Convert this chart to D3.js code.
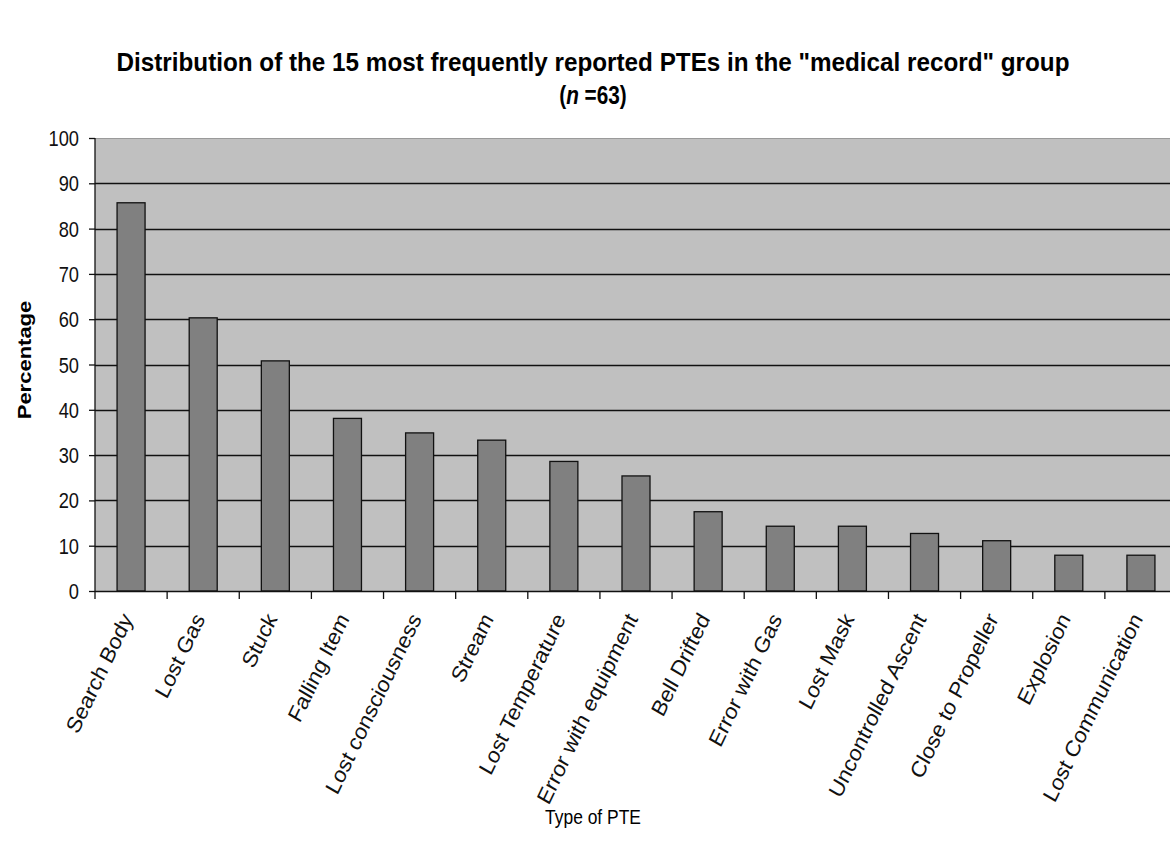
<!DOCTYPE html>
<html>
<head>
<meta charset="utf-8">
<script src="https://cdn.jsdelivr.net/npm/d3@7"></script>
<style>
  html, body { margin: 0; padding: 0; background: #fff; overflow: hidden; }
  svg { display: block; }
</style>
</head>
<body>
<svg id="chart" width="1170" height="852"></svg>
<script>
// Percent of the 63 medical-record cases reporting each event type
const categories = [
  "Search Body", "Lost Gas", "Stuck", "Falling Item", "Lost consciousness",
  "Stream", "Lost Temperature", "Error with equipment", "Bell Drifted",
  "Error with Gas", "Lost Mask", "Uncontrolled Ascent", "Close to Propeller",
  "Explosion", "Lost Communication"
];
const percentages = [85.7, 60.3, 50.8, 38.1, 34.9, 33.3, 28.6, 25.4, 17.5, 14.3, 14.3, 12.7, 11.1, 7.9, 7.9];
const yTicks = [0, 10, 20, 30, 40, 50, 60, 70, 80, 90, 100];

const titleLine1 = 'Distribution of the 15 most frequently reported PTEs in the "medical record" group';
const xTitle = "Type of PTE";
const yTitle = "Percentage";

const FONT = "'Liberation Sans', Arial, Helvetica, sans-serif";
const SX = 0.83;      // narrow glyphs: text is squeezed horizontally
const SX_LABEL = 0.9; // slanted category labels
const tt = (x, yy, rot = 0, sx = SX) => `translate(${x},${yy}) scale(${sx},1) rotate(${rot})`;

const svg = d3.select("#chart");
const m = { left: 95, top: 138, right: 1177, bottom: 591 };

const xTick = d3.scaleBand().domain(categories).range([m.left, m.right]);
const y = d3.scaleLinear().domain([0, 100]).range([m.bottom, m.top]);

// plot background
svg.append("rect")
  .attr("x", m.left).attr("y", m.top)
  .attr("width", m.right - m.left).attr("height", m.bottom - m.top)
  .attr("fill", "#c0c0c0");

// top edge of plot frame
svg.append("line")
  .attr("x1", m.left).attr("x2", m.right)
  .attr("y1", m.top + 0.5).attr("y2", m.top + 0.5)
  .attr("stroke", "#9a9a9a").attr("stroke-width", 1.2);

// horizontal gridlines
svg.append("g").selectAll("line")
  .data(yTicks.filter(t => t > 0 && t < 100))
  .join("line")
  .attr("x1", m.left).attr("x2", m.right)
  .attr("y1", d => Math.round(y(d)) + 0.5).attr("y2", d => Math.round(y(d)) + 0.5)
  .attr("stroke", "#111").attr("stroke-width", 1.5);

// bars
svg.append("g").selectAll("rect")
  .data(categories)
  .join("rect")
  .attr("x", d => xTick(d) + xTick.bandwidth() / 2 - 14)
  .attr("width", 28)
  .attr("y", (d, i) => y(percentages[i]))
  .attr("height", (d, i) => y(0) - y(percentages[i]))
  .attr("fill", "#808080")
  .attr("stroke", "#111")
  .attr("stroke-width", 1.3);

// y axis
const yAxis = d3.axisLeft(y).tickValues(yTicks).tickSize(6).tickFormat("");
const gy = svg.append("g").attr("transform", `translate(${m.left},0)`).call(yAxis);
gy.select(".domain").attr("stroke", "#111").attr("stroke-width", 1.3).attr("d", `M0,${m.top}V${m.bottom}`);
gy.selectAll(".tick line").attr("stroke", "#111").attr("stroke-width", 1.3);
svg.append("g").selectAll("text")
  .data(yTicks)
  .join("text")
  .attr("transform", d => tt(79, y(d) + 8))
  .attr("text-anchor", "end")
  .attr("font-family", FONT).attr("font-size", 22).attr("fill", "#111")
  .text(d => d);

// x axis: ticks at category boundaries
const gx = svg.append("g").attr("transform", `translate(0,${m.bottom})`);
gx.append("line").attr("x1", m.left).attr("x2", m.right).attr("y1", 0.5).attr("y2", 0.5)
  .attr("stroke", "#111").attr("stroke-width", 1.4);
gx.selectAll("line.tk")
  .data(categories.map(c => xTick(c)))
  .join("line").attr("class", "tk")
  .attr("x1", d => d).attr("x2", d => d).attr("y1", 0).attr("y2", 8)
  .attr("stroke", "#111").attr("stroke-width", 1.3);

// slanted category labels
gx.selectAll("text.lbl")
  .data(categories)
  .join("text").attr("class", "lbl")
  .attr("transform", d => tt(xTick(d) + xTick.bandwidth() / 2 - 4, 24, -62, SX_LABEL))
  .attr("text-anchor", "end")
  .attr("dy", "0.35em")
  .attr("font-family", FONT)
  .attr("font-size", 23).attr("fill", "#111")
  .text(d => d);

// title
svg.append("text")
  .attr("x", 593).attr("y", 71)
  .attr("text-anchor", "middle")
  .attr("font-family", FONT)
  .attr("font-weight", "bold").attr("font-size", 26)
  .attr("textLength", 953).attr("lengthAdjust", "spacingAndGlyphs")
  .attr("fill", "#000")
  .text(titleLine1);

const sub = svg.append("text")
  .attr("transform", tt(593, 104))
  .attr("text-anchor", "middle")
  .attr("font-family", FONT)
  .attr("font-weight", "bold").attr("font-size", 25)
  .attr("fill", "#000");
sub.append("tspan").text("(");
sub.append("tspan").attr("font-style", "italic").text("n");
sub.append("tspan").text(" =63)");

// axis titles
svg.append("text")
  .attr("transform", tt(31, 360, -90))
  .attr("text-anchor", "middle")
  .attr("font-family", FONT)
  .attr("font-weight", "bold").attr("font-size", 22).attr("fill", "#000")
  .text(yTitle);

svg.append("text")
  .attr("transform", tt(593, 824))
  .attr("text-anchor", "middle")
  .attr("font-family", FONT)
  .attr("font-size", 21).attr("fill", "#000")
  .text(xTitle);
</script>
</body>
</html>
